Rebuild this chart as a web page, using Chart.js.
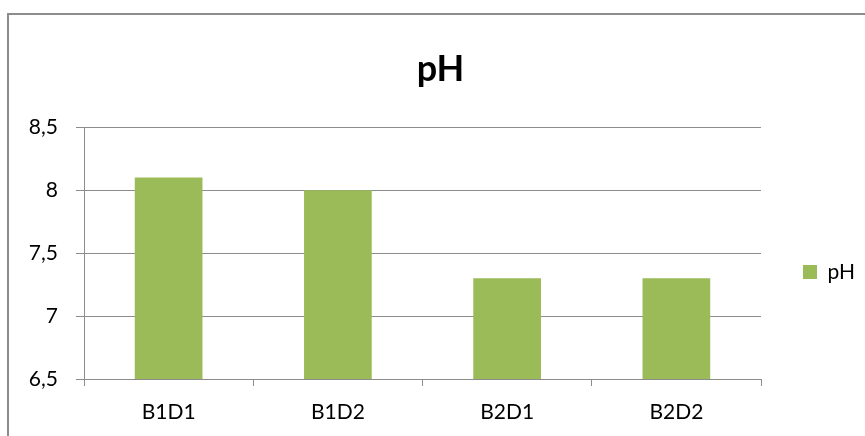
<!DOCTYPE html>
<html>
<head>
<meta charset="utf-8">
<script src="https://cdn.jsdelivr.net/npm/chart.js@4.4.1/dist/chart.umd.min.js"></script>
<style>
  html, body { margin: 0; padding: 0; background: #ffffff; }
  #wrap { position: relative; width: 865px; height: 436px; }
  #frame {
    position: absolute; left: 7px; top: 13px; right: -10px; bottom: -10px;
    border-left: 2px solid #8c8c8c; border-top: 2px solid #8c8c8c;
    pointer-events: none;
  }
</style>
</head>
<body>
<div id="wrap">
  <canvas id="chartPh" width="865" height="436"></canvas>
  <div id="frame"></div>
</div>
<script>
// Datos del gráfico
const categorias = ["B1D1", "B1D2", "B2D1", "B2D2"];
const valoresPh = [8.1, 8.0, 7.3, 7.3];
const etiquetaSerie = "pH";
const tituloGrafico = "pH";
const yMin = 6.5;
const yMax = 8.5;
const yPaso = 0.5;

Chart.defaults.font.family = 'Lato';
Chart.defaults.color = '#000000';

const gris = '#8c8c8c';

new Chart(document.getElementById('chartPh'), {
    type: 'bar',
    data: {
        labels: categorias,
        datasets: [{
            label: etiquetaSerie,
            data: valoresPh,
            backgroundColor: '#9bbb59',
            borderWidth: 0,
            categoryPercentage: 0.4,
            barPercentage: 1.0
        }]
    },
    options: {
        responsive: false,
        animation: false,
        layout: { padding: { left: 16, right: 0, top: 0, bottom: 0 } },
        plugins: {
            title: {
                display: true,
                text: tituloGrafico,
                font: { size: 36, weight: 'bold' },
                color: '#000000',
                padding: { top: 48, bottom: 36 }
            },
            legend: {
                position: 'right',
                // título vacío sólo para bajar la leyenda
                title: { display: true, text: '', font: { size: 10 }, padding: { top: 96, bottom: 0 } },
                labels: {
                    boxWidth: 14,
                    boxHeight: 14,
                    font: { size: 21 },
                    color: '#000000',
                    padding: 42
                }
            },
            tooltip: { enabled: false }
        },
        scales: {
            y: {
                min: yMin,
                max: yMax,
                afterFit: (scale) => { scale.width = 68; },
                ticks: {
                    stepSize: yPaso,
                    font: { size: 21 },
                    color: '#000000',
                    padding: 18,
                    callback: (v) => String(v).replace('.', ',')
                },
                grid: { color: gris, lineWidth: 1, tickLength: 8 },
                border: { color: gris, width: 1 }
            },
            x: {
                afterFit: (scale) => { scale.height = 57; },
                ticks: { font: { size: 21 }, color: '#000000', padding: 14 },
                grid: { display: true, drawOnChartArea: false, offset: true, tickLength: 7, color: gris },
                border: { color: gris, width: 1 }
            }
        }
    }
});
</script>
</body>
</html>
